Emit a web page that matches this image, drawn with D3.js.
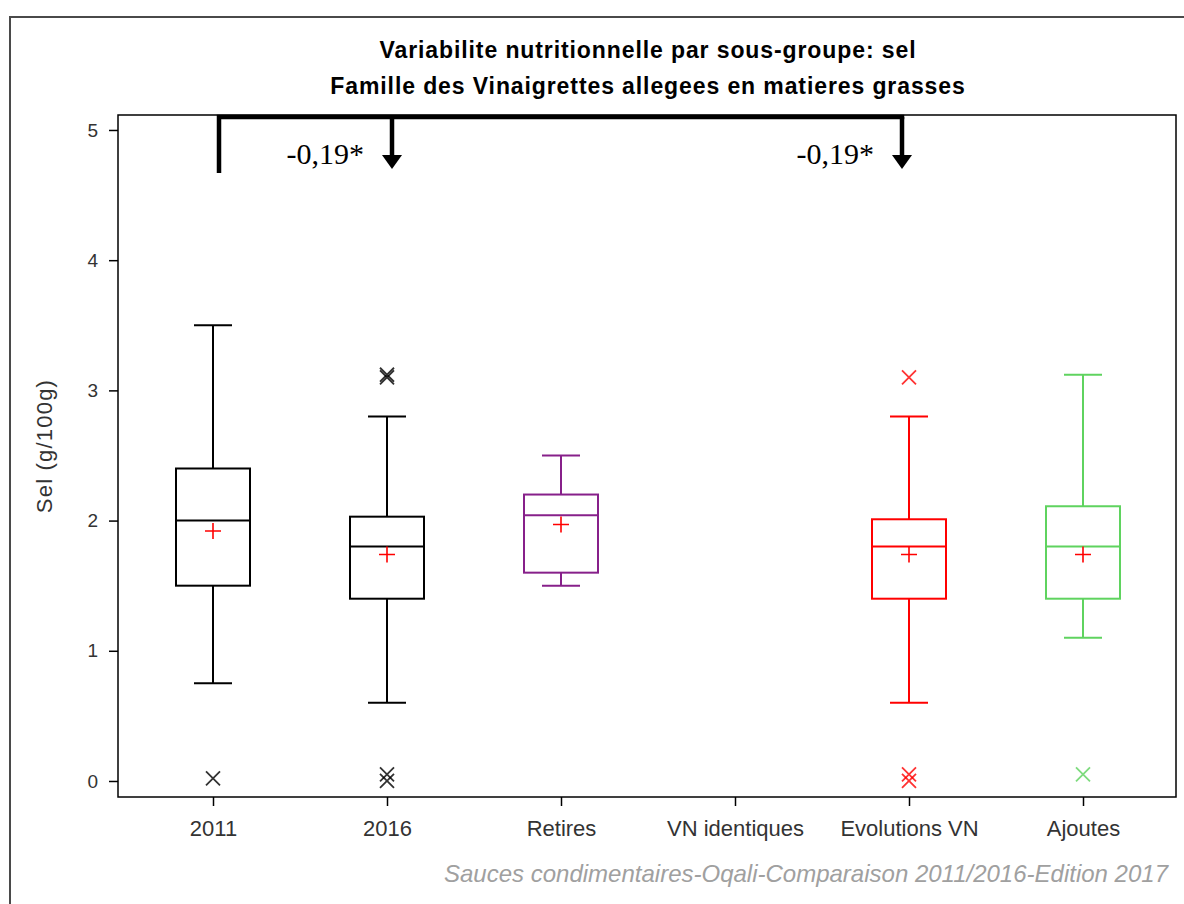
<!DOCTYPE html>
<html lang="fr">
<head>
<meta charset="utf-8">
<title>Variabilite nutritionnelle par sous-groupe: sel</title>
<style>
  body { margin: 0; background: #fff; }
  svg { display: block; font-family: "Liberation Sans", Arial, sans-serif; }
  .tick text { fill: #333; }
</style>
</head>
<body>
<div id="chart"></div>
<script src="https://cdn.jsdelivr.net/npm/d3@7"></script>
<script>
var categories = ["2011", "2016", "Retires", "VN identiques", "Evolutions VN", "Ajoutes"];
var whiskerLow  = [0.75, 0.60, 1.50, null, 0.60, 1.10];
var q1          = [1.50, 1.40, 1.60, null, 1.40, 1.40];
var medians     = [2.00, 1.80, 2.04, null, 1.80, 1.80];
var q3          = [2.40, 2.03, 2.20, null, 2.01, 2.11];
var whiskerHigh = [3.50, 2.80, 2.50, null, 2.80, 3.12];
var means       = [1.92, 1.74, 1.97, null, 1.74, 1.74];
var outliers    = [[0.02], [3.10, 3.12, 0.05, 0.00], [], [], [3.10, 0.05, 0.00], [0.05]];
var boxColors   = ["#000000", "#000000", "#87208a", "#000000", "#ff0000", "#5fd35f"];
var yTicks      = [0, 1, 2, 3, 4, 5];

// comparison brackets (pasted annotation, slightly off the box centres)
var compFrom  = ["2011", "2011"];
var compTo    = ["2016", "Evolutions VN"];
var compText  = ["-0,19*", "-0,19*"];
var compFromShift = 6;
var compToShift   = [5, -7];
var bracketTop = 5.1, bracketStart = 4.67, arrowTip = 4.7;

(function() {
  'use strict';

  var W = 1184, H = 904;
  var mLeft = 118, mRight = 1176, mTop = 115, mBottom = 797;

  var svg = d3.select("#chart").append("svg")
    .attr("width", W).attr("height", H);

  // outer frame
  svg.append("rect")
    .attr("x", 10).attr("y", 17)
    .attr("width", W + 20).attr("height", H + 20)
    .attr("fill", "none").attr("stroke", "#4a4a4a").attr("stroke-width", 2);

  var x = d3.scalePoint().domain(categories).range([213, 1083]);
  var y = d3.scaleLinear().domain([-0.123, 5.115]).range([mBottom, mTop]);

  // plot frame
  svg.append("rect")
    .attr("x", mLeft).attr("y", mTop)
    .attr("width", mRight - mLeft).attr("height", mBottom - mTop)
    .attr("fill", "none").attr("stroke", "#000").attr("stroke-width", 1.5);

  var yAxis = svg.append("g")
    .attr("transform", "translate(" + mLeft + ",0)")
    .call(d3.axisLeft(y).tickValues(yTicks).tickSize(9).tickPadding(11).tickFormat(d3.format("d")));
  yAxis.select(".domain").remove();
  yAxis.selectAll("line").attr("stroke-width", 1.5);
  yAxis.selectAll("text").attr("font-size", 19).attr("font-family", "Liberation Sans, Arial, sans-serif");

  var xAxis = svg.append("g")
    .attr("transform", "translate(0," + mBottom + ")")
    .call(d3.axisBottom(x).tickSize(9).tickPadding(14));
  xAxis.select(".domain").remove();
  xAxis.selectAll("line").attr("stroke-width", 1.5);
  xAxis.selectAll("text").attr("font-size", 22).attr("font-family", "Liberation Sans, Arial, sans-serif");

  svg.append("text")
    .attr("transform", "translate(52,446) rotate(-90)")
    .attr("text-anchor", "middle")
    .attr("font-size", 22).attr("letter-spacing", 1.2).attr("fill", "#333")
    .text("Sel (g/100g)");

  // titles
  svg.append("text")
    .attr("x", 648).attr("y", 58)
    .attr("text-anchor", "middle").attr("font-weight", "bold").attr("font-size", 23)
    .attr("letter-spacing", 0.9)
    .text("Variabilite nutritionnelle par sous-groupe: sel");
  svg.append("text")
    .attr("x", 648).attr("y", 94)
    .attr("text-anchor", "middle").attr("font-weight", "bold").attr("font-size", 23)
    .attr("letter-spacing", 0.9)
    .text("Famille des Vinaigrettes allegees en matieres grasses");

  // footer
  svg.append("text")
    .attr("x", 1168).attr("y", 882)
    .attr("text-anchor", "end").attr("font-style", "italic")
    .attr("font-size", 24).attr("fill", "#a0a0a0")
    .text("Sauces condimentaires-Oqali-Comparaison 2011/2016-Edition 2017");

  // boxes
  var boxHalf = 37, capHalf = 19, plusHalf = 8, crossHalf = 7;
  categories.forEach(function(c, i) {
    var cx = x(c), col = boxColors[i];
    var g = svg.append("g").attr("stroke", col).attr("stroke-width", 2).attr("fill", "none");
    if (q1[i] != null) {
      g.append("line").attr("x1", cx).attr("x2", cx).attr("y1", y(q3[i])).attr("y2", y(whiskerHigh[i]));
      g.append("line").attr("x1", cx).attr("x2", cx).attr("y1", y(q1[i])).attr("y2", y(whiskerLow[i]));
      g.append("line").attr("x1", cx - capHalf).attr("x2", cx + capHalf).attr("y1", y(whiskerHigh[i])).attr("y2", y(whiskerHigh[i]));
      g.append("line").attr("x1", cx - capHalf).attr("x2", cx + capHalf).attr("y1", y(whiskerLow[i])).attr("y2", y(whiskerLow[i]));
      g.append("rect").attr("x", cx - boxHalf).attr("y", y(q3[i]))
        .attr("width", boxHalf * 2).attr("height", y(q1[i]) - y(q3[i]));
      g.append("line").attr("x1", cx - boxHalf).attr("x2", cx + boxHalf).attr("y1", y(medians[i])).attr("y2", y(medians[i]));
    }
    if (means[i] != null) {
      var my = y(means[i]);
      svg.append("path")
        .attr("d", "M" + (cx - plusHalf) + "," + my + "H" + (cx + plusHalf) + "M" + cx + "," + (my - plusHalf) + "V" + (my + plusHalf))
        .attr("stroke", "#ff0000").attr("stroke-width", 1.6);
    }
    outliers[i].forEach(function(v) {
      var oy = y(v);
      svg.append("path")
        .attr("d", "M" + (cx - crossHalf) + "," + (oy - crossHalf) + "L" + (cx + crossHalf) + "," + (oy + crossHalf) +
                   "M" + (cx - crossHalf) + "," + (oy + crossHalf) + "L" + (cx + crossHalf) + "," + (oy - crossHalf))
        .attr("stroke", col).attr("stroke-width", 1.8).attr("opacity", 0.8);
    });
  });

  // comparison bracket
  var bx0 = x(compFrom[0]) + compFromShift;
  var toX = compTo.map(function(c, i) { return x(c) + compToShift[i]; });
  var bxMax = d3.max(toX);
  var br = svg.append("g").attr("stroke", "#000").attr("stroke-width", 4.5).attr("fill", "none");
  br.append("path")
    .attr("d", "M" + bx0 + "," + y(bracketStart) + "V" + y(bracketTop) + "H" + (bxMax + 2.25))
    .attr("stroke-linejoin", "miter");
  toX.forEach(function(tx, i) {
    var tip = y(arrowTip);
    br.append("line").attr("x1", tx).attr("x2", tx).attr("y1", y(bracketTop)).attr("y2", tip - 10);
    svg.append("path")
      .attr("d", "M" + (tx - 10) + "," + (tip - 14) + "L" + (tx + 10) + "," + (tip - 14) + "L" + tx + "," + tip + "Z")
      .attr("fill", "#000");
    svg.append("text")
      .attr("x", tx - 28).attr("y", tip - 5)
      .attr("text-anchor", "end")
      .attr("font-family", "Liberation Serif, 'DejaVu Serif', serif")
      .attr("font-size", 30)
      .text(compText[i]);
  });
})();
</script>
</body>
</html>
